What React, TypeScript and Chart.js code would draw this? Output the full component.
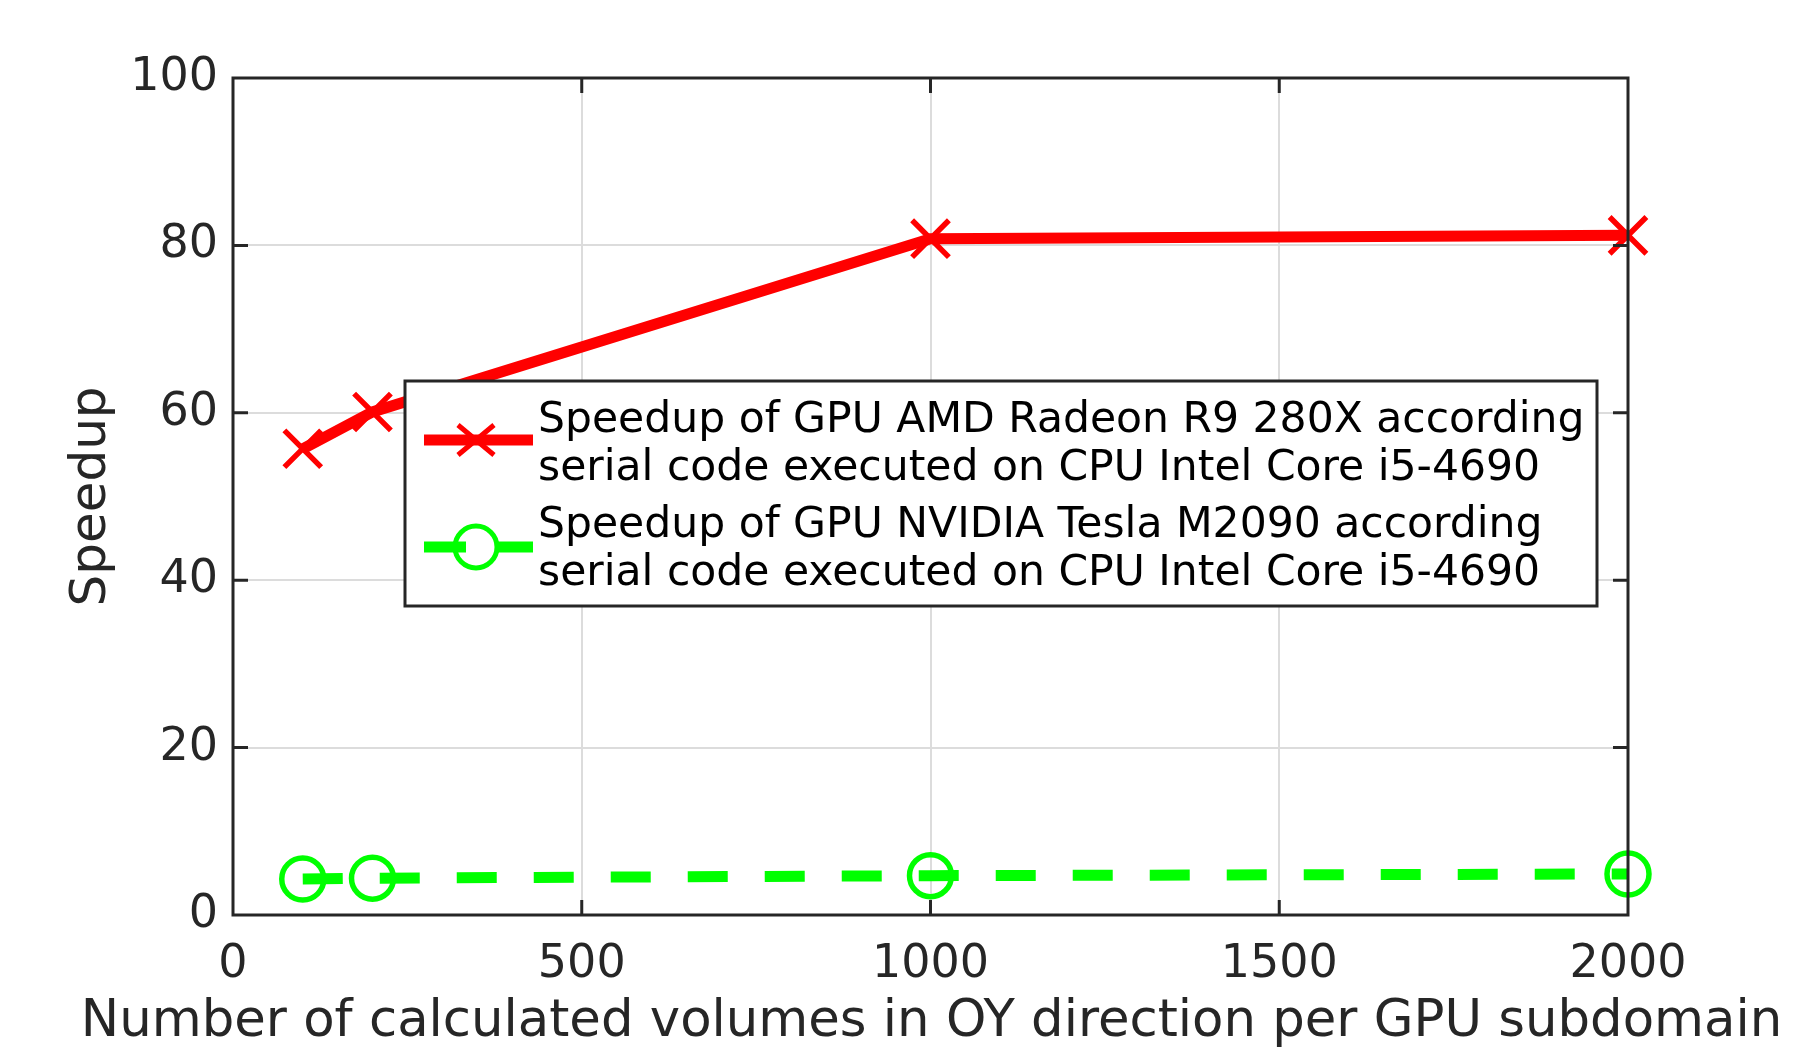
import { useEffect, useRef } from 'react';
import { Chart, registerables } from 'chart.js';

Chart.register(...registerables);

const volumes = [100, 200, 1000, 2000];
const amdSpeedup = [55.7, 60.1, 80.8, 81.2];
const nvidiaSpeedup = [4.3, 4.4, 4.7, 4.9];

const amdLabel = ['Speedup of GPU AMD Radeon R9 280X according', 'serial code executed on CPU Intel Core i5-4690'];
const nvidiaLabel = ['Speedup of GPU NVIDIA Tesla M2090 according', 'serial code executed on CPU Intel Core i5-4690'];

const xTitle = 'Number of calculated volumes in OY direction per GPU subdomain';
const yTitle = 'Speedup';

const FONT = '"DejaVu Sans", sans-serif';
const AXIS = '#262626';
const RED = '#ff0000';
const GREEN = '#00ff00';

// matlab style box with ticks pointing inwards on all four sides
const boxPlugin = {
    id: 'box',
    afterDatasetsDraw(chart: any) {
        const { ctx, chartArea: a, scales } = chart;
        const len = 15;
        ctx.save();
        ctx.strokeStyle = AXIS;
        ctx.lineWidth = 3;
        ctx.beginPath();
        scales.x.ticks.forEach((t: any) => {
            const px = scales.x.getPixelForValue(t.value);
            if (px <= a.left + 1 || px >= a.right - 1) return;
            ctx.moveTo(px, a.bottom); ctx.lineTo(px, a.bottom - len);
            ctx.moveTo(px, a.top); ctx.lineTo(px, a.top + len);
        });
        scales.y.ticks.forEach((t: any) => {
            const py = scales.y.getPixelForValue(t.value);
            if (py <= a.top + 1 || py >= a.bottom - 1) return;
            ctx.moveTo(a.left, py); ctx.lineTo(a.left + len, py);
            ctx.moveTo(a.right, py); ctx.lineTo(a.right - len, py);
        });
        ctx.stroke();
        ctx.strokeRect(a.left, a.top, a.right - a.left, a.bottom - a.top);
        ctx.restore();
    }
};

// x title is wider than the plot, so chart.js would squeeze it; draw it here instead
const xTitlePlugin = {
    id: 'xTitle',
    afterDraw(chart: any) {
        const { ctx, chartArea: a } = chart;
        ctx.save();
        ctx.font = '51.3px ' + FONT;
        ctx.fillStyle = AXIS;
        ctx.textAlign = 'center';
        ctx.textBaseline = 'middle';
        ctx.fillText(xTitle, (a.left + a.right) / 2 + 1, 1023);
        ctx.restore();
    }
};

// legend box placed inside the plot, two lines of text per entry
const legendPlugin = {
    id: 'innerLegend',
    afterDraw(chart: any) {
        const { ctx } = chart;
        const box = { x: 405, y: 381, w: 1192, h: 225 };
        ctx.save();
        ctx.fillStyle = '#ffffff';
        ctx.fillRect(box.x, box.y, box.w, box.h);
        ctx.strokeStyle = AXIS;
        ctx.lineWidth = 3;
        ctx.strokeRect(box.x, box.y, box.w, box.h);

        ctx.font = '42.5px ' + FONT;
        ctx.fillStyle = '#000000';
        ctx.textBaseline = 'alphabetic';
        const entries = [
            { lines: chart.data.datasets[0].label.split('\n'), base: 432, sym: 440, color: RED, marker: 'x' },
            { lines: chart.data.datasets[1].label.split('\n'), base: 537, sym: 547, color: GREEN, marker: 'o' }
        ];
        const cx = 476;
        entries.forEach((e) => {
            e.lines.forEach((l: string, i: number) => ctx.fillText(l, 538, e.base + i * 48));
            ctx.strokeStyle = e.color;
            ctx.lineWidth = 11;
            ctx.beginPath();
            if (e.marker === 'x') {
                ctx.moveTo(424, e.sym); ctx.lineTo(533, e.sym);
            } else {
                ctx.moveTo(424, e.sym); ctx.lineTo(cx - 10, e.sym);
                ctx.moveTo(cx + 21, e.sym); ctx.lineTo(533, e.sym);
            }
            ctx.stroke();
            ctx.lineWidth = 5;
            ctx.beginPath();
            if (e.marker === 'x') {
                ctx.moveTo(cx - 18, e.sym - 15); ctx.lineTo(cx + 18, e.sym + 15);
                ctx.moveTo(cx - 18, e.sym + 15); ctx.lineTo(cx + 18, e.sym - 15);
            } else {
                ctx.arc(cx, e.sym, 21, 0, Math.PI * 2);
            }
            ctx.stroke();
        });
        ctx.restore();
    }
};

export default function App() {
    const chartRef = useRef<HTMLCanvasElement>(null);
    const chartInstance = useRef<Chart | null>(null);

    useEffect(() => {
        document.body.style.margin = '0';
        if (!chartRef.current) return;
        const ctx = chartRef.current.getContext('2d');
        if (!ctx) return;
        if (chartInstance.current) chartInstance.current.destroy();

        chartInstance.current = new Chart(ctx, {
            type: 'line',
            data: {
                datasets: [
                    {
                        label: amdLabel.join('\n'),
                        data: volumes.map((v, i) => ({ x: v, y: amdSpeedup[i] })),
                        borderColor: RED,
                        borderWidth: 11,
                        pointStyle: 'crossRot',
                        pointRadius: 26,
                        pointBorderWidth: 5.5,
                        pointBorderColor: RED,
                        pointBackgroundColor: RED,
                        tension: 0,
                        clip: false
                    },
                    {
                        label: nvidiaLabel.join('\n'),
                        data: volumes.map((v, i) => ({ x: v, y: nvidiaSpeedup[i] })),
                        borderColor: GREEN,
                        borderWidth: 11,
                        borderDash: [40, 37],
                        borderCapStyle: 'butt',
                        pointStyle: 'circle',
                        pointRadius: 21,
                        pointBorderWidth: 5.5,
                        pointBorderColor: GREEN,
                        pointBackgroundColor: 'rgba(0,0,0,0)',
                        tension: 0,
                        clip: false
                    }
                ]
            },
            options: {
                responsive: false,
                animation: false,
                layout: { padding: { top: 78, right: 172, left: 0, bottom: 0 } },
                plugins: {
                    legend: { display: false },
                    tooltip: { enabled: false }
                },
                scales: {
                    x: {
                        type: 'linear',
                        min: 0,
                        max: 2000,
                        ticks: {
                            stepSize: 500,
                            color: AXIS,
                            font: { family: FONT, size: 46 },
                            padding: 22,
                            maxRotation: 0,
                            callback: (v: any) => String(v)
                        },
                        grid: { color: '#dcdcdc', lineWidth: 2, drawTicks: false },
                        border: { display: false },
                        afterFit: (s: any) => { s.height = 135; }
                    },
                    y: {
                        min: 0,
                        max: 100,
                        ticks: { stepSize: 20, color: AXIS, font: { family: FONT, size: 46 }, padding: 15 },
                        grid: { color: '#dcdcdc', lineWidth: 2, drawTicks: false },
                        border: { display: false },
                        title: { display: true, text: yTitle, color: AXIS, font: { family: FONT, size: 50 }, padding: { top: 62, bottom: 0 } },
                        afterFit: (s: any) => { s.width = 233; }
                    }
                }
            },
            plugins: [boxPlugin, xTitlePlugin, legendPlugin]
        });

        return () => {
            if (chartInstance.current) {
                chartInstance.current.destroy();
                chartInstance.current = null;
            }
        };
    }, []);

    return (
        <div style={{ width: 1800, height: 1050, background: '#ffffff' }}>
            <canvas ref={chartRef} width={1800} height={1050}></canvas>
        </div>
    );
}
